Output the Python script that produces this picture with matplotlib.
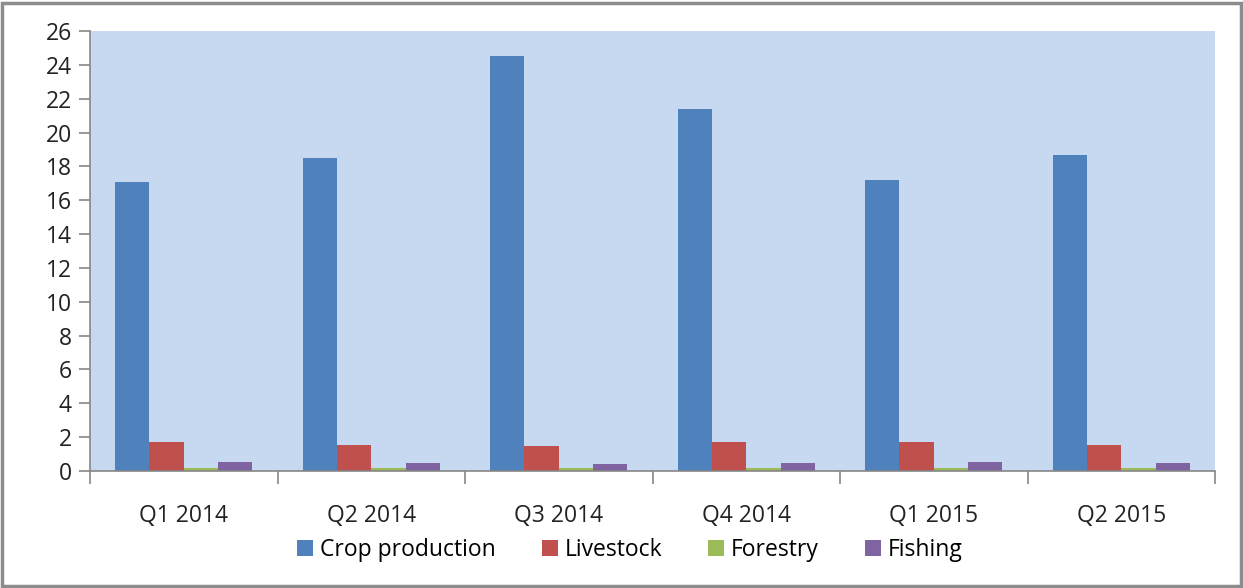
import numpy as np
import matplotlib.pyplot as plt
from matplotlib.patches import Rectangle

quarters = ['Q1 2014', 'Q2 2014', 'Q3 2014', 'Q4 2014', 'Q1 2015', 'Q2 2015']
crop = [17.1, 18.5, 24.5, 21.4, 17.2, 18.7]
livestock = [1.7, 1.55, 1.5, 1.7, 1.7, 1.55]
forestry = [0.15, 0.15, 0.15, 0.15, 0.15, 0.15]
fishing = [0.55, 0.47, 0.4, 0.47, 0.55, 0.47]

series = [('Crop production', crop, '#4F81BD'),
          ('Livestock', livestock, '#C0504D'),
          ('Forestry', forestry, '#9BBB59'),
          ('Fishing', fishing, '#8064A2')]

plt.rcParams['font.family'] = ['Open Sans', 'DejaVu Sans']

fig = plt.figure(figsize=(12.43, 5.88), dpi=100)
W, H = 1243, 588
ax = fig.add_axes([90 / W, 1 - 471 / H, 1125 / W, 440 / H])
ax.set_facecolor('#C6D9F1')

x = np.arange(len(quarters))
w = 0.183
for i, (name, vals, col) in enumerate(series):
    ax.bar(x + (i - 1.5) * w, vals, w, color=col, label=name)

ax.set_xlim(-0.5, len(quarters) - 0.5)
ax.set_ylim(0, 26)
ax.set_yticks(np.arange(0, 27, 2))
ax.set_xticks(x)
ax.set_xticklabels(quarters)
ax.set_xticks(np.arange(-0.5, len(quarters), 1), minor=True)
ax.tick_params(axis='x', which='major', length=0, pad=24, labelsize=16.5, labelcolor='#222222')
ax.tick_params(axis='x', which='minor', length=9, color='#868686', width=1.2)
ax.tick_params(axis='y', length=8, color='#868686', width=1.2, labelsize=16.5,
               labelcolor='#222222', pad=5)
for s in ['top', 'right']:
    ax.spines[s].set_visible(False)
for s in ['left', 'bottom']:
    ax.spines[s].set_color('#868686')
    ax.spines[s].set_linewidth(1.2)

fig.legend(loc='center', bbox_to_anchor=(630 / W, 1 - 550 / H), ncol=4, frameon=False,
           fontsize=16.5, handlelength=0.7, handleheight=0.7, handletextpad=0.3,
           columnspacing=2.0)

fig.patches.append(Rectangle((2 / W, 2 / H), 1 - 4 / W, 1 - 5 / H, transform=fig.transFigure,
                             fill=False, edgecolor='#8C8C8C', linewidth=2.5))

fig.savefig('out.png', dpi=100)
